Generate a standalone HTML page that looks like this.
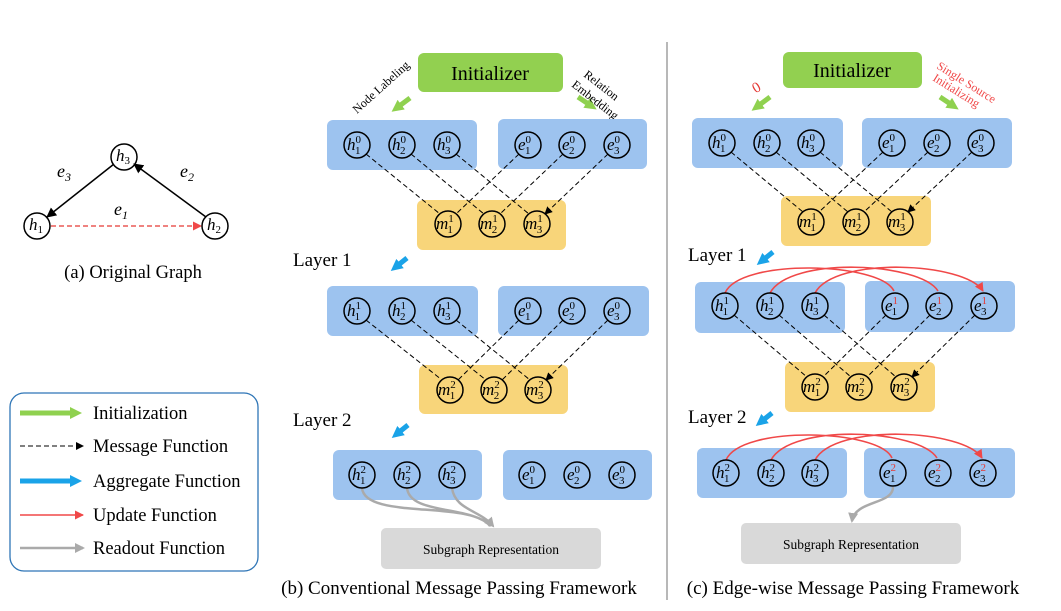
<!DOCTYPE html>
<html><head><meta charset="utf-8"><style>
body{margin:0;background:#fff}
svg{display:block;font-family:"Liberation Serif",serif}
.n circle{fill:none;stroke:#000;stroke-width:1.5}
.n text{font-style:italic;font-size:17px}
.s{font-size:11px;font-style:normal}
.r{fill:#e53935}
.d{stroke:#000;stroke-width:1;stroke-dasharray:5 3;fill:none;marker-end:url(#ak)}
.u{stroke:#f04848;stroke-width:1.6;fill:none;marker-end:url(#ar)}
.g{stroke:#aaa;stroke-width:2.5;fill:none;marker-end:url(#ag)}
.blue{fill:#9dc3ef}.yel{fill:#f8d57a}
</style></head><body>
<svg width="1061" height="611" viewBox="0 0 1061 611" xmlns="http://www.w3.org/2000/svg">
<defs>
<marker id="ak" markerWidth="8" markerHeight="8" refX="7" refY="4" orient="auto" markerUnits="userSpaceOnUse"><path d="M0,0L8,4L0,8z" fill="#000"/></marker>
<marker id="ar" markerWidth="9" markerHeight="9" refX="8" refY="4.5" orient="auto" markerUnits="userSpaceOnUse"><path d="M0,0L9,4.5L0,9z" fill="#f04848"/></marker>
<marker id="ag" markerWidth="10" markerHeight="10" refX="8" refY="5" orient="auto" markerUnits="userSpaceOnUse"><path d="M0,0L10,5L0,10z" fill="#aaa"/></marker>
<marker id="agr" markerWidth="12" markerHeight="12" refX="4" refY="6" orient="auto" markerUnits="userSpaceOnUse"><path d="M0,0L12,6L0,12z" fill="#8fd14f"/></marker>
<marker id="abl" markerWidth="12" markerHeight="12" refX="4" refY="6" orient="auto" markerUnits="userSpaceOnUse"><path d="M0,0L12,6L0,12z" fill="#1aa3e8"/></marker>
<marker id="bk" markerWidth="10" markerHeight="10" refX="9" refY="5" orient="auto" markerUnits="userSpaceOnUse"><path d="M0,0L10,5L0,10z" fill="#000"/></marker>
</defs>

<!-- (a) -->
<line x1="114" y1="164" x2="47" y2="217" stroke="#000" stroke-width="1.5" marker-end="url(#bk)"/>
<line x1="206" y1="217" x2="134" y2="164" stroke="#000" stroke-width="1.5" marker-end="url(#bk)"/>
<line x1="51" y1="226" x2="201" y2="226" stroke="#e53935" stroke-width="1.2" stroke-dasharray="5 3" marker-end="url(#ar)"/>
<g class="n" transform="translate(124,157)"><circle r="13"/><text x="-8" y="4">h<tspan class="s" dy="3">3</tspan></text></g>
<g class="n" transform="translate(37,226)"><circle r="13"/><text x="-8" y="4">h<tspan class="s" dy="3">1</tspan></text></g>
<g class="n" transform="translate(215,226)"><circle r="13"/><text x="-8" y="4">h<tspan class="s" dy="3">2</tspan></text></g>
<text x="57" y="177" font-style="italic" font-size="18">e<tspan font-size="12" dy="4">3</tspan></text>
<text x="180" y="177" font-style="italic" font-size="18">e<tspan font-size="12" dy="4">2</tspan></text>
<text x="114" y="215" font-style="italic" font-size="18">e<tspan font-size="12" dy="4">1</tspan></text>
<text x="133" y="278" font-size="18.5" text-anchor="middle">(a) Original Graph</text>

<!-- legend -->
<rect x="10" y="393" width="248" height="178" rx="14" fill="none" stroke="#2e75b6" stroke-width="1.3"/>
<line x1="20" y1="413" x2="74" y2="413" stroke="#8fd14f" stroke-width="5" marker-end="url(#agr)"/>
<line x1="20" y1="446" x2="83" y2="446" class="d"/>
<line x1="20" y1="481" x2="74" y2="481" stroke="#1aa3e8" stroke-width="5" marker-end="url(#abl)"/>
<line x1="20" y1="515" x2="83" y2="515" class="u" stroke-width="1.2"/>
<line x1="20" y1="548" x2="83" y2="548" class="g"/>
<g font-size="18.5"><text x="93" y="419">Initialization</text><text x="93" y="452">Message Function</text><text x="93" y="487">Aggregate Function</text><text x="93" y="521">Update Function</text><text x="93" y="554">Readout Function</text></g>

<!-- (b) -->
<rect x="418" y="53" width="145" height="39" rx="6" fill="#92d050"/>
<text x="490" y="80" font-size="20" text-anchor="middle">Initializer</text>
<line x1="410" y1="98" x2="398" y2="107" stroke="#8fd14f" stroke-width="5" marker-end="url(#agr)"/>
<line x1="578" y1="97" x2="590" y2="105" stroke="#8fd14f" stroke-width="5" marker-end="url(#agr)"/>
<text x="357" y="114" font-size="12" transform="rotate(-42 357 114)">Node Labeling</text>
<text x="583" y="76" font-size="12" transform="rotate(38 583 76)">Relation</text>
<text x="571" y="86" font-size="12" transform="rotate(38 571 86)">Embedding</text>

<rect x="327" y="120" width="150" height="50" rx="6" class="blue"/>
<rect x="498" y="119" width="149" height="50" rx="6" class="blue"/>
<rect x="417" y="200" width="149" height="50" rx="6" class="yel"/>
<path class="d" d="M366,154L440,214M411,154L484,214M456,154L529,214M519,154L456,214M563,154L500,214M608,154L545,214"/>

<text x="293" y="266" font-size="19">Layer 1</text>
<line x1="407" y1="258" x2="397" y2="266" stroke="#1aa3e8" stroke-width="5" marker-end="url(#abl)"/>

<rect x="327" y="286" width="151" height="50" rx="6" class="blue"/>
<rect x="498" y="286" width="151" height="50" rx="6" class="blue"/>
<rect x="419" y="365" width="149" height="49" rx="6" class="yel"/>
<path class="d" d="M366,320L442,380M411,320L486,380M456,320L530,380M519,320L458,380M563,320L502,380M608,320L546,380"/>

<text x="293" y="426" font-size="19">Layer 2</text>
<line x1="408" y1="425" x2="398" y2="433" stroke="#1aa3e8" stroke-width="5" marker-end="url(#abl)"/>

<rect x="333" y="450" width="149" height="50" rx="6" class="blue"/>
<rect x="503" y="450" width="149" height="50" rx="6" class="blue"/>
<path class="g" d="M362,488C365,520 470,500 490,526M407,488C410,515 470,505 491,526M452,488C455,510 480,510 493,526"/>
<rect x="381" y="528" width="220" height="41" rx="5" fill="#d9d9d9"/>
<text x="491" y="554" font-size="13.5" text-anchor="middle">Subgraph Representation</text>
<text x="459" y="594" font-size="19" text-anchor="middle">(b) Conventional Message Passing Framework</text>

<line x1="667" y1="42" x2="667" y2="600" stroke="#888" stroke-width="1.2"/>

<!-- (c) -->
<rect x="783" y="52" width="139" height="36" rx="6" fill="#92d050"/>
<text x="852" y="77" font-size="20" text-anchor="middle">Initializer</text>
<line x1="770" y1="97" x2="758" y2="106" stroke="#8fd14f" stroke-width="5" marker-end="url(#agr)"/>
<line x1="940" y1="97" x2="952" y2="105" stroke="#8fd14f" stroke-width="5" marker-end="url(#agr)"/>
<text x="753" y="92" font-size="15" fill="#e53935" transform="rotate(-30 757 88)">0</text>
<text x="936" y="68" font-size="12" fill="#f04848" transform="rotate(32 936 68)">Single Source</text>
<text x="932" y="80" font-size="12" fill="#f04848" transform="rotate(32 932 80)">Initializing</text>

<rect x="692" y="118" width="151" height="50" rx="6" class="blue"/>
<rect x="862" y="118" width="150" height="50" rx="6" class="blue"/>
<rect x="781" y="196" width="150" height="50" rx="6" class="yel"/>
<path class="d" d="M731,152L803,212M776,152L848,212M820,152L892,212M883,152L819,212M928,152L864,212M972,152L908,212"/>

<text x="688" y="261" font-size="19">Layer 1</text>
<line x1="773" y1="252" x2="763" y2="260" stroke="#1aa3e8" stroke-width="5" marker-end="url(#abl)"/>

<rect x="695" y="282" width="150" height="51" rx="6" class="blue"/>
<rect x="865" y="281" width="150" height="51" rx="6" class="blue"/>
<rect x="785" y="362" width="150" height="50" rx="6" class="yel"/>
<path class="d" d="M734,315L807,377M779,315L851,377M824,315L896,377M886,315L823,377M930,315L867,377M975,315L912,377"/>
<path class="u" d="M725,293C740,258 880,262 894,291M770,293C790,256 920,262 938,291M815,293C835,256 965,262 983,291"/>

<text x="688" y="423" font-size="19">Layer 2</text>
<line x1="772" y1="413" x2="762" y2="421" stroke="#1aa3e8" stroke-width="5" marker-end="url(#abl)"/>

<rect x="697" y="448" width="150" height="50" rx="6" class="blue"/>
<rect x="864" y="448" width="151" height="50" rx="6" class="blue"/>
<path class="u" d="M726,460C741,425 879,429 892,458M771,460C791,423 919,429 937,458M815,460C835,423 964,429 982,458"/>
<path class="g" d="M893,487C893,505 855,500 852,521"/>
<rect x="741" y="523" width="220" height="41" rx="5" fill="#d9d9d9"/>
<text x="851" y="549" font-size="13.5" text-anchor="middle">Subgraph Representation</text>
<text x="853" y="594" font-size="19" text-anchor="middle">(c) Edge-wise Message Passing Framework</text>

<!-- nodes (b) row1 -->
<g class="n" transform="translate(357,145)"><circle r="13"/><text x="-10" y="5">h<tspan class="s" dy="-7">0</tspan><tspan class="s" dx="-6" dy="11">1</tspan></text></g>
<g class="n" transform="translate(402,145)"><circle r="13"/><text x="-10" y="5">h<tspan class="s" dy="-7">0</tspan><tspan class="s" dx="-6" dy="11">2</tspan></text></g>
<g class="n" transform="translate(447,145)"><circle r="13"/><text x="-10" y="5">h<tspan class="s" dy="-7">0</tspan><tspan class="s" dx="-6" dy="11">3</tspan></text></g>
<g class="n" transform="translate(528,145)"><circle r="13"/><text x="-10" y="5">e<tspan class="s" dy="-7">0</tspan><tspan class="s" dx="-6" dy="11">1</tspan></text></g>
<g class="n" transform="translate(572,145)"><circle r="13"/><text x="-10" y="5">e<tspan class="s" dy="-7">0</tspan><tspan class="s" dx="-6" dy="11">2</tspan></text></g>
<g class="n" transform="translate(617,145)"><circle r="13"/><text x="-10" y="5">e<tspan class="s" dy="-7">0</tspan><tspan class="s" dx="-6" dy="11">3</tspan></text></g>
<g class="n" transform="translate(448,224)"><circle r="13"/><text x="-12" y="5">m<tspan class="s" dy="-7">1</tspan><tspan class="s" dx="-6" dy="11">1</tspan></text></g>
<g class="n" transform="translate(492,224)"><circle r="13"/><text x="-12" y="5">m<tspan class="s" dy="-7">1</tspan><tspan class="s" dx="-6" dy="11">2</tspan></text></g>
<g class="n" transform="translate(537,224)"><circle r="13"/><text x="-12" y="5">m<tspan class="s" dy="-7">1</tspan><tspan class="s" dx="-6" dy="11">3</tspan></text></g>
<!-- (b) row2 -->
<g class="n" transform="translate(357,311)"><circle r="13"/><text x="-10" y="5">h<tspan class="s" dy="-7">1</tspan><tspan class="s" dx="-6" dy="11">1</tspan></text></g>
<g class="n" transform="translate(402,311)"><circle r="13"/><text x="-10" y="5">h<tspan class="s" dy="-7">1</tspan><tspan class="s" dx="-6" dy="11">2</tspan></text></g>
<g class="n" transform="translate(447,311)"><circle r="13"/><text x="-10" y="5">h<tspan class="s" dy="-7">1</tspan><tspan class="s" dx="-6" dy="11">3</tspan></text></g>
<g class="n" transform="translate(528,311)"><circle r="13"/><text x="-10" y="5">e<tspan class="s" dy="-7">0</tspan><tspan class="s" dx="-6" dy="11">1</tspan></text></g>
<g class="n" transform="translate(572,311)"><circle r="13"/><text x="-10" y="5">e<tspan class="s" dy="-7">0</tspan><tspan class="s" dx="-6" dy="11">2</tspan></text></g>
<g class="n" transform="translate(617,311)"><circle r="13"/><text x="-10" y="5">e<tspan class="s" dy="-7">0</tspan><tspan class="s" dx="-6" dy="11">3</tspan></text></g>
<g class="n" transform="translate(450,390)"><circle r="13"/><text x="-12" y="5">m<tspan class="s" dy="-7">2</tspan><tspan class="s" dx="-6" dy="11">1</tspan></text></g>
<g class="n" transform="translate(494,390)"><circle r="13"/><text x="-12" y="5">m<tspan class="s" dy="-7">2</tspan><tspan class="s" dx="-6" dy="11">2</tspan></text></g>
<g class="n" transform="translate(538,390)"><circle r="13"/><text x="-12" y="5">m<tspan class="s" dy="-7">2</tspan><tspan class="s" dx="-6" dy="11">3</tspan></text></g>
<!-- (b) row3 -->
<g class="n" transform="translate(362,475)"><circle r="13"/><text x="-10" y="5">h<tspan class="s" dy="-7">2</tspan><tspan class="s" dx="-6" dy="11">1</tspan></text></g>
<g class="n" transform="translate(407,475)"><circle r="13"/><text x="-10" y="5">h<tspan class="s" dy="-7">2</tspan><tspan class="s" dx="-6" dy="11">2</tspan></text></g>
<g class="n" transform="translate(452,475)"><circle r="13"/><text x="-10" y="5">h<tspan class="s" dy="-7">2</tspan><tspan class="s" dx="-6" dy="11">3</tspan></text></g>
<g class="n" transform="translate(532,475)"><circle r="13"/><text x="-10" y="5">e<tspan class="s" dy="-7">0</tspan><tspan class="s" dx="-6" dy="11">1</tspan></text></g>
<g class="n" transform="translate(577,475)"><circle r="13"/><text x="-10" y="5">e<tspan class="s" dy="-7">0</tspan><tspan class="s" dx="-6" dy="11">2</tspan></text></g>
<g class="n" transform="translate(622,475)"><circle r="13"/><text x="-10" y="5">e<tspan class="s" dy="-7">0</tspan><tspan class="s" dx="-6" dy="11">3</tspan></text></g>

<!-- (c) row1 -->
<g class="n" transform="translate(722,143)"><circle r="13"/><text x="-10" y="5">h<tspan class="s" dy="-7">0</tspan><tspan class="s" dx="-6" dy="11">1</tspan></text></g>
<g class="n" transform="translate(767,143)"><circle r="13"/><text x="-10" y="5">h<tspan class="s" dy="-7">0</tspan><tspan class="s" dx="-6" dy="11">2</tspan></text></g>
<g class="n" transform="translate(811,143)"><circle r="13"/><text x="-10" y="5">h<tspan class="s" dy="-7">0</tspan><tspan class="s" dx="-6" dy="11">3</tspan></text></g>
<g class="n" transform="translate(892,143)"><circle r="13"/><text x="-10" y="5">e<tspan class="s" dy="-7">0</tspan><tspan class="s" dx="-6" dy="11">1</tspan></text></g>
<g class="n" transform="translate(937,143)"><circle r="13"/><text x="-10" y="5">e<tspan class="s" dy="-7">0</tspan><tspan class="s" dx="-6" dy="11">2</tspan></text></g>
<g class="n" transform="translate(981,143)"><circle r="13"/><text x="-10" y="5">e<tspan class="s" dy="-7">0</tspan><tspan class="s" dx="-6" dy="11">3</tspan></text></g>
<g class="n" transform="translate(811,222)"><circle r="13"/><text x="-12" y="5">m<tspan class="s" dy="-7">1</tspan><tspan class="s" dx="-6" dy="11">1</tspan></text></g>
<g class="n" transform="translate(856,222)"><circle r="13"/><text x="-12" y="5">m<tspan class="s" dy="-7">1</tspan><tspan class="s" dx="-6" dy="11">2</tspan></text></g>
<g class="n" transform="translate(900,222)"><circle r="13"/><text x="-12" y="5">m<tspan class="s" dy="-7">1</tspan><tspan class="s" dx="-6" dy="11">3</tspan></text></g>
<!-- (c) row2 -->
<g class="n" transform="translate(725,306)"><circle r="13"/><text x="-10" y="5">h<tspan class="s" dy="-7">1</tspan><tspan class="s" dx="-6" dy="11">1</tspan></text></g>
<g class="n" transform="translate(770,306)"><circle r="13"/><text x="-10" y="5">h<tspan class="s" dy="-7">1</tspan><tspan class="s" dx="-6" dy="11">2</tspan></text></g>
<g class="n" transform="translate(815,306)"><circle r="13"/><text x="-10" y="5">h<tspan class="s" dy="-7">1</tspan><tspan class="s" dx="-6" dy="11">3</tspan></text></g>
<g class="n" transform="translate(895,306)"><circle r="13"/><text x="-10" y="5">e<tspan class="s r" dy="-7">1</tspan><tspan class="s" dx="-6" dy="11">1</tspan></text></g>
<g class="n" transform="translate(939,306)"><circle r="13"/><text x="-10" y="5">e<tspan class="s r" dy="-7">1</tspan><tspan class="s" dx="-6" dy="11">2</tspan></text></g>
<g class="n" transform="translate(984,306)"><circle r="13"/><text x="-10" y="5">e<tspan class="s r" dy="-7">1</tspan><tspan class="s" dx="-6" dy="11">3</tspan></text></g>
<g class="n" transform="translate(815,387)"><circle r="13"/><text x="-12" y="5">m<tspan class="s" dy="-7">2</tspan><tspan class="s" dx="-6" dy="11">1</tspan></text></g>
<g class="n" transform="translate(859,387)"><circle r="13"/><text x="-12" y="5">m<tspan class="s" dy="-7">2</tspan><tspan class="s" dx="-6" dy="11">2</tspan></text></g>
<g class="n" transform="translate(904,387)"><circle r="13"/><text x="-12" y="5">m<tspan class="s" dy="-7">2</tspan><tspan class="s" dx="-6" dy="11">3</tspan></text></g>
<!-- (c) row3 -->
<g class="n" transform="translate(726,473)"><circle r="13"/><text x="-10" y="5">h<tspan class="s" dy="-7">2</tspan><tspan class="s" dx="-6" dy="11">1</tspan></text></g>
<g class="n" transform="translate(771,473)"><circle r="13"/><text x="-10" y="5">h<tspan class="s" dy="-7">2</tspan><tspan class="s" dx="-6" dy="11">2</tspan></text></g>
<g class="n" transform="translate(815,473)"><circle r="13"/><text x="-10" y="5">h<tspan class="s" dy="-7">2</tspan><tspan class="s" dx="-6" dy="11">3</tspan></text></g>
<g class="n" transform="translate(893,473)"><circle r="13"/><text x="-10" y="5">e<tspan class="s r" dy="-7">2</tspan><tspan class="s" dx="-6" dy="11">1</tspan></text></g>
<g class="n" transform="translate(938,473)"><circle r="13"/><text x="-10" y="5">e<tspan class="s r" dy="-7">2</tspan><tspan class="s" dx="-6" dy="11">2</tspan></text></g>
<g class="n" transform="translate(983,473)"><circle r="13"/><text x="-10" y="5">e<tspan class="s r" dy="-7">2</tspan><tspan class="s" dx="-6" dy="11">3</tspan></text></g>
</svg>
</body></html>
